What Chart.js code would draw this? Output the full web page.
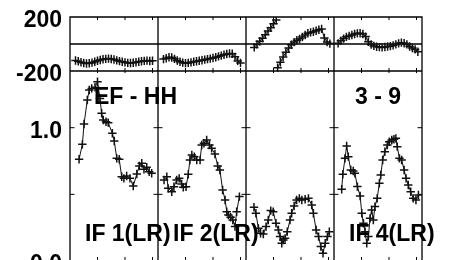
<!DOCTYPE html>
<html>
<head>
<meta charset="utf-8">
<script src="https://cdn.jsdelivr.net/npm/chart.js@4.4.0/dist/chart.umd.min.js"></script>
<style>
    html, body { margin: 0; padding: 0; background: #fff; overflow: hidden; width: 457px; height: 260px; }
    canvas { display: block; }
</style>
</head>
<body>
<canvas id="myChart" width="457" height="280"></canvas>
<script>
// labels
const panelLabels = ['IF 1(LR)', 'IF 2(LR)', '', 'IF 4(LR)'];
const headLabels = ['EF - HH', '', '', '3 - 9'];
const phaseTicks = [200, -200];
const ampTicks = [1.0, 0.0];
const freqTicks = [1, 2, 3];

// panel 1
const p1PhFreq = [0.2, 0.3, 0.4, 0.5, 0.6, 0.7, 0.8, 0.9, 1.0, 1.1, 1.2, 1.3, 1.4, 1.5, 1.6, 1.7, 1.8, 1.9, 2.0, 2.1, 2.2, 2.3, 2.4, 2.5, 2.6, 2.7, 2.8, 2.9, 3.0];
const p1Phase = [-122, -128, -135, -141, -144, -143, -138, -131, -124, -118, -113, -110, -108, -111, -115, -121, -127, -132, -136, -140, -141, -139, -135, -131, -128, -125, -123, -126, -124];
const p1AmpFreq = [0.33, 0.45, 0.51, 0.63, 0.70, 0.79, 0.91, 1.00, 1.09, 1.15, 1.21, 1.31, 1.39, 1.54, 1.61, 1.70, 1.79, 1.88, 1.96, 2.06, 2.18, 2.30, 2.43, 2.52, 2.61, 2.69, 2.79, 2.88, 2.97];
const p1Amp = [0.763, 0.875, 1.028, 1.208, 1.283, 1.295, 1.303, 1.345, 1.220, 1.108, 1.058, 1.045, 1.038, 0.958, 0.900, 0.770, 0.763, 0.632, 0.620, 0.638, 0.620, 0.563, 0.653, 0.713, 0.733, 0.688, 0.703, 0.670, 0.658];

// panel 2
const p2PhFreq = [0.2, 0.3, 0.4, 0.5, 0.6, 0.7, 0.8, 0.9, 1.0, 1.1, 1.2, 1.3, 1.4, 1.5, 1.6, 1.7, 1.8, 1.9, 2.0, 2.1, 2.2, 2.3, 2.4, 2.5, 2.6, 2.7, 2.8, 2.9, 3.0];
const p2Phase = [-112, -105, -98, -100, -110, -122, -132, -138, -142, -140, -136, -132, -128, -124, -120, -116, -112, -108, -104, -98, -92, -86, -80, -74, -70, -72, -95, -125, -140];
const p2AmpFreq = [0.22, 0.32, 0.37, 0.50, 0.58, 0.68, 0.77, 0.86, 0.92, 1.02, 1.10, 1.16, 1.23, 1.32, 1.41, 1.53, 1.59, 1.67, 1.77, 1.87, 1.95, 2.07, 2.17, 2.25, 2.35, 2.44, 2.50, 2.56, 2.64, 2.72, 2.80, 2.86, 2.96];
const p2Amp = [0.608, 0.632, 0.545, 0.520, 0.557, 0.608, 0.620, 0.578, 0.553, 0.557, 0.650, 0.758, 0.795, 0.782, 0.758, 0.758, 0.870, 0.883, 0.908, 0.870, 0.845, 0.803, 0.713, 0.683, 0.533, 0.458, 0.370, 0.345, 0.328, 0.308, 0.258, 0.370, 0.483];

// panel 3 (phase wraps at 180, null = break in the line)
const p3PhFreq = [0.3, 0.4, 0.5, 0.6, 0.7, 0.8, 0.9, 1.0, 1.1, 1.12, 1.15, 1.25, 1.35, 1.45, 1.55, 1.65, 1.75, 1.85, 1.95, 2.05, 2.15, 2.25, 2.35, 2.45, 2.55, 2.65, 2.75, 2.85, 2.95, 3.05];
const p3Phase = [-25, -3, 20, 43, 69, 96, 120, 150, 178, null, -175, -135, -97, -62, -30, -5, 14, 28, 38, 52, 67, 80, 86, 91, 98, 106, 112, 45, 14, 3];
const p3AmpFreq = [0.29, 0.36, 0.45, 0.53, 0.63, 0.73, 0.81, 0.90, 0.99, 1.09, 1.18, 1.24, 1.30, 1.36, 1.42, 1.50, 1.60, 1.66, 1.75, 1.84, 1.94, 2.03, 2.15, 2.27, 2.39, 2.45, 2.55, 2.64, 2.72, 2.80, 2.88, 2.96, 3.03];
const p3Amp = [0.403, 0.358, 0.245, 0.208, 0.203, 0.258, 0.308, 0.378, 0.370, 0.283, 0.233, 0.183, 0.133, 0.158, 0.170, 0.220, 0.308, 0.358, 0.413, 0.458, 0.470, 0.458, 0.463, 0.470, 0.420, 0.358, 0.233, 0.183, 0.108, 0.058, 0.133, 0.183, 0.220];

// panel 4
const p4PhFreq = [0.15, 0.25, 0.35, 0.45, 0.55, 0.65, 0.75, 0.85, 0.95, 1.05, 1.15, 1.25, 1.35, 1.45, 1.55, 1.65, 1.75, 1.85, 1.95, 2.05, 2.15, 2.25, 2.35, 2.45, 2.55, 2.65, 2.75, 2.85, 2.95, 3.05];
const p4Phase = [5, 24, 40, 53, 60, 67, 74, 79, 80, 74, 55, 17, -4, -14, -20, -23, -25, -22, -19, -16, -10, -3, 5, 10, 6, -3, -18, -30, -40, -57];
const p4AmpFreq = [0.28, 0.32, 0.40, 0.46, 0.52, 0.61, 0.70, 0.76, 0.85, 0.95, 1.01, 1.07, 1.13, 1.19, 1.25, 1.31, 1.37, 1.43, 1.49, 1.57, 1.65, 1.70, 1.77, 1.85, 1.94, 2.01, 2.10, 2.18, 2.25, 2.30, 2.38, 2.46, 2.55, 2.62, 2.70, 2.79, 2.88, 2.98, 3.07];
const p4Amp = [0.538, 0.650, 0.770, 0.863, 0.783, 0.683, 0.675, 0.658, 0.558, 0.488, 0.358, 0.283, 0.220, 0.133, 0.183, 0.320, 0.383, 0.308, 0.408, 0.470, 0.583, 0.645, 0.758, 0.820, 0.870, 0.895, 0.908, 0.913, 0.920, 0.858, 0.770, 0.758, 0.683, 0.620, 0.570, 0.520, 0.470, 0.458, 0.495];

const panels = [
    { phF: p1PhFreq, ph: p1Phase, ampF: p1AmpFreq, amp: p1Amp },
    { phF: p2PhFreq, ph: p2Phase, ampF: p2AmpFreq, amp: p2Amp },
    { phF: p3PhFreq, ph: p3Phase, ampF: p3AmpFreq, amp: p3Amp },
    { phF: p4PhFreq, ph: p4Phase, ampF: p4AmpFreq, amp: p4Amp }
];

const SPAN = 3.2; // width of one panel in frequency units
const FONT = 'bold 23px "Liberation Sans", Arial, sans-serif';

function toPoints(freqs, vals, i) {
    return freqs.map((f, k) => ({ x: i * SPAN + f, y: vals[k] }));
}

const datasets = [];
panels.forEach((p, i) => {
    const common = {
        borderColor: '#111',
        backgroundColor: '#111',
        borderWidth: 1,
        pointStyle: 'cross',
        pointRadius: 4.2,
        pointBorderWidth: 1.5,
        pointHoverRadius: 4.2,
        spanGaps: false,
        tension: 0
    };
    datasets.push(Object.assign({ data: toPoints(p.phF, p.ph, i), yAxisID: 'yPh' }, common));
    datasets.push(Object.assign({ data: toPoints(p.ampF, p.amp, i), yAxisID: 'yAmp' }, common));
});

const framePlugin = {
    id: 'frame',
    beforeDatasetsDraw(chart) {
        const ctx = chart.ctx;
        const a = chart.chartArea;
        const x = chart.scales.x, yPh = chart.scales.yPh, yAmp = chart.scales.yAmp;
        const yMid = yPh.getPixelForValue(0);
        const ySplit = yPh.getPixelForValue(-200);
        ctx.save();
        ctx.strokeStyle = '#000';
        ctx.lineWidth = 1.3;
        ctx.beginPath();
        ctx.rect(a.left, a.top, a.right - a.left, a.bottom - a.top);
        ctx.moveTo(a.left, yMid); ctx.lineTo(a.right, yMid);
        ctx.moveTo(a.left, ySplit); ctx.lineTo(a.right, ySplit);
        for (let i = 1; i < panels.length; i++) {
            const px = x.getPixelForValue(i * SPAN);
            ctx.moveTo(px, a.top); ctx.lineTo(px, a.bottom);
        }
        ctx.stroke();
        // frequency ticks
        ctx.lineWidth = 1;
        ctx.beginPath();
        for (let i = 0; i < panels.length; i++) {
            freqTicks.forEach((t) => {
                const px = x.getPixelForValue(i * SPAN + t);
                ctx.moveTo(px, a.top); ctx.lineTo(px, a.top + 3);
                ctx.moveTo(px, ySplit - 3); ctx.lineTo(px, ySplit + 2);
                ctx.moveTo(px, a.bottom); ctx.lineTo(px, a.bottom - 4);
            });
        }
        // amplitude ticks on the dividers
        [1.0, 0.5].forEach((v) => {
            const py = yAmp.getPixelForValue(v);
            for (let i = 0; i <= panels.length; i++) {
                const px = x.getPixelForValue(i * SPAN);
                ctx.moveTo(Math.max(a.left, px - 4.5), py);
                ctx.lineTo(Math.min(a.right, px + 4.5), py);
            }
        });
        ctx.stroke();
        ctx.restore();
    },
    afterDatasetsDraw(chart) {
        const ctx = chart.ctx;
        const a = chart.chartArea;
        const x = chart.scales.x, yPh = chart.scales.yPh, yAmp = chart.scales.yAmp;
        ctx.save();
        ctx.fillStyle = '#000';
        ctx.font = FONT;
        ctx.textBaseline = 'alphabetic';
        ctx.textAlign = 'right';
        phaseTicks.forEach((v) => ctx.fillText(String(v), a.left - 8, yPh.getPixelForValue(v) + 10));
        ampTicks.forEach((v) => ctx.fillText(v.toFixed(1), a.left - 8, yAmp.getPixelForValue(v) + 10));
        ctx.textAlign = 'left';
        for (let i = 0; i < panels.length; i++) {
            const px = x.getPixelForValue(i * SPAN);
            if (headLabels[i]) ctx.fillText(headLabels[i], px + (i === 0 ? 24 : 21), 104);
            if (panelLabels[i]) ctx.fillText(panelLabels[i], px + 15, 241);
        }
        ctx.restore();
    }
};

const myChart = new Chart(document.getElementById('myChart'), {
    type: 'line',
    data: { datasets },
    options: {
        responsive: false,
        animation: false,
        devicePixelRatio: 1,
        layout: { padding: { left: 70, top: 17, right: 35, bottom: 19 } },
        plugins: { legend: { display: false }, tooltip: { enabled: false } },
        scales: {
            x: { type: 'linear', min: 0, max: 4 * SPAN, display: false },
            yPh: { type: 'linear', position: 'left', min: -1607.4, max: 200, display: false },
            yAmp: { type: 'linear', position: 'left', min: 0, max: 1.8305, display: false }
        }
    },
    plugins: [framePlugin]
});
</script>
</body>
</html>
